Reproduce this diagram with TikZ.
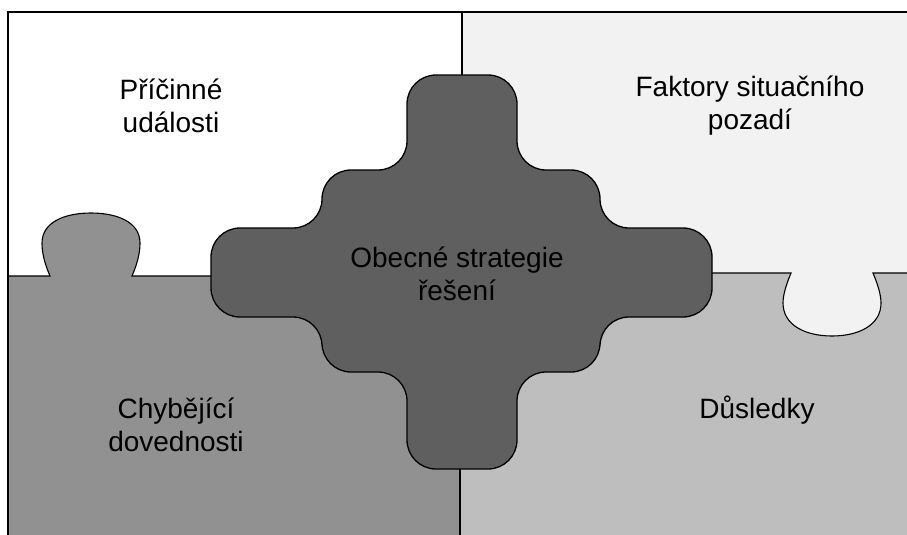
\documentclass[tikz,border=0pt]{standalone}
\usepackage{fontspec}
\setmainfont{Liberation Sans}
\definecolor{trc}{HTML}{F2F2F2}
\definecolor{blc}{HTML}{919191}
\definecolor{brc}{HTML}{BEBEBE}
\definecolor{cc}{HTML}{5F5F5F}
\begin{document}
\begin{tikzpicture}[x=1pt,y=-1pt,
  divline/.style={draw=black,line width=1.1pt},
  frameline/.style={draw=black,line width=2.4pt},
  piecelabel/.style={align=center,font=\fontsize{28}{33}\selectfont,text=black,inner sep=0pt}]
\useasboundingbox (0,0) rectangle (907,535);
% quadrant fills
\fill[white] (8,12) rectangle (907,535);
\fill[trc] (462,12) rectangle (907,273);
\fill[blc] (8,276) rectangle (461,535);
\fill[brc] (461,273) rectangle (907,535);
% tab of the lower-left piece
\fill[blc] (50,277) .. controls (44,262) and (42,252) .. (42,243)
  .. controls (42,222) and (65,213) .. (91,213)
  .. controls (117,213) and (140,222) .. (140,243)
  .. controls (140,252) and (138,262) .. (132,277) -- cycle;
% tab of the upper-right piece
\fill[trc] (791,272) .. controls (786,285) and (783,295) .. (783,303)
  .. controls (783,325) and (805,336) .. (832,336)
  .. controls (859,336) and (881,325) .. (881,303)
  .. controls (881,295) and (878,285) .. (873,272) -- cycle;
% divider lines
\draw[divline] (8,276) -- (50,276) .. controls (44,262) and (42,252) .. (42,243)
  .. controls (42,222) and (65,213) .. (91,213)
  .. controls (117,213) and (140,222) .. (140,243)
  .. controls (140,252) and (138,262) .. (132,276) -- (300,276);
\draw[divline] (620,273) -- (791,273) .. controls (786,285) and (783,295) .. (783,303)
  .. controls (783,325) and (805,336) .. (832,336)
  .. controls (859,336) and (881,325) .. (881,303)
  .. controls (881,295) and (878,285) .. (873,273) -- (907,273);
\draw[divline] (462,12) -- (462,120);
\draw[divline] (460,420) -- (460,535);
% central piece
\filldraw[fill=cc,draw=black,line width=1.3pt,rounded corners=29pt]
  (407,75) -- (517,75) -- (517,170) -- (600,170) -- (600,228) -- (712,228)
  -- (712,317) -- (600,317) -- (600,372) -- (517,372) -- (517,469)
  -- (407,469) -- (407,372) -- (322,372) -- (322,317) -- (211,317)
  -- (211,228) -- (322,228) -- (322,170) -- (407,170) -- cycle;
% frame
\draw[frameline] (8,535) -- (8,12) -- (907,12);
% labels
\node[piecelabel] (cause) at (171,106) {Příčinné\\události};
\node[piecelabel] (context) at (750,106) {Faktory situačního\\pozadí};
\node[piecelabel] (strategy) at (457,274) {Obecné strategie\\řešení};
\node[piecelabel] (skills) at (176,425) {Chybějící\\dovednosti};
\node[piecelabel] (effects) at (757,410) {Důsledky};
\end{tikzpicture}
\end{document}
